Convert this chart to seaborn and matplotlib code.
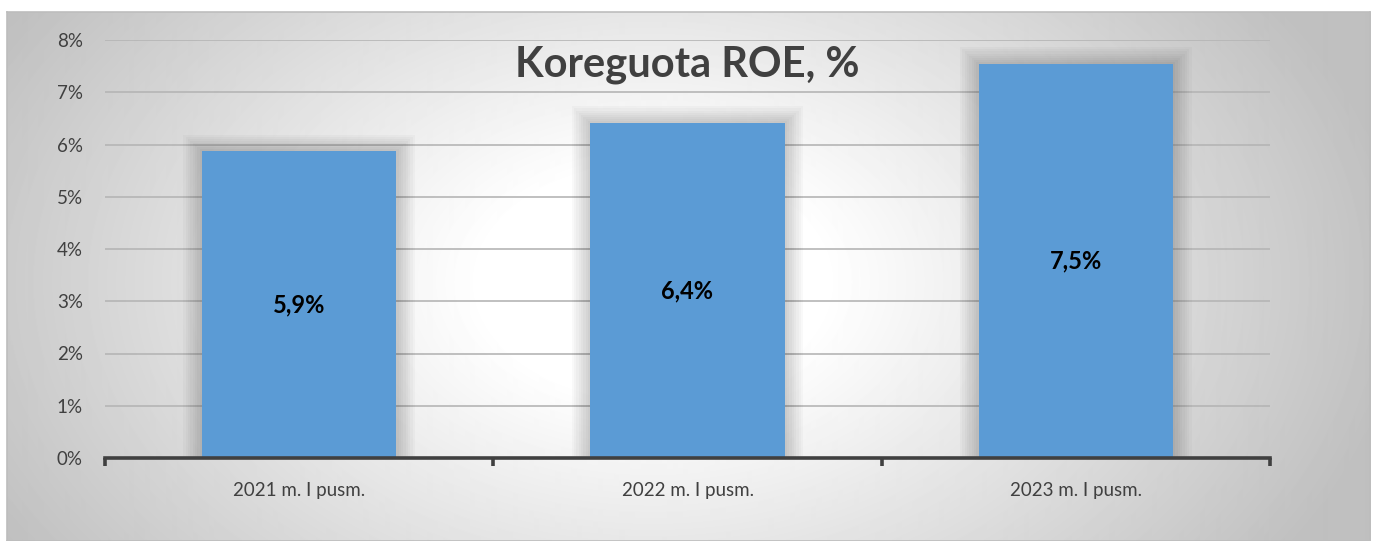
import numpy as np
import pandas as pd
import matplotlib
matplotlib.use("Agg")
import matplotlib.pyplot as plt
import seaborn as sns

# values (ROE, %)
periods = ["2021 m. I pusm.", "2022 m. I pusm.", "2023 m. I pusm."]
roe = [5.87, 6.41, 7.54]
roe_labels = ["5,9%", "6,4%", "7,5%"]
y_ticks = [0, 1, 2, 3, 4, 5, 6, 7, 8]

df = pd.DataFrame({"period": periods, "roe": roe})

sns.set_theme(style="white")
plt.rcParams["font.family"] = ["Lato", "DejaVu Sans"]

W, H = 1375, 541
fig = plt.figure(figsize=(W / 100, H / 100), dpi=100)
fig.patch.set_facecolor("white")

# grey radial gradient background with a thin border
bg = fig.add_axes([7 / W, 0, (W - 12) / W, (H - 12) / H])
bw, bh = W - 12, H - 12
xx, yy = np.meshgrid(np.arange(bw), np.arange(bh))
r = np.sqrt(((xx - 645) / 780.0) ** 2 + ((yy - 270) / 520.0) ** 2)
val = 1 - 0.25 * np.clip((r - 0.22) / 0.75, 0, 1)
bg.imshow(val, cmap="gray", vmin=0, vmax=1, aspect="auto", interpolation="bilinear")
bg.set_xticks([])
bg.set_yticks([])
for s in bg.spines.values():
    s.set_color("#bdbdbd")
    s.set_linewidth(1.2)

ax = fig.add_axes([105 / W, (H - 458) / H, 1165 / W, 418 / H])
ax.patch.set_alpha(0)

# soft shadow around the bars
for k in range(1, 9):
    ax.bar(np.arange(len(roe)), [v + 0.04 * k for v in roe], width=0.5 + 0.012 * k,
           color="black", alpha=0.022, zorder=1, linewidth=0)

sns.barplot(data=df, x="period", y="roe", color="#5B9BD5", width=0.5,
            saturation=1, linewidth=0, ax=ax, zorder=3)

for i, v in enumerate(roe):
    ax.text(i, v / 2, roe_labels[i], ha="center", va="center",
            fontsize=17, fontweight="bold", color="black", zorder=4)

ax.set_ylim(0, 8)
ax.set_xlim(-0.5, 2.5)
ax.set_yticks(y_ticks)
ax.set_yticklabels([f"{t}%" for t in y_ticks])
ax.yaxis.grid(True, color="#b5b5b5", linewidth=1.2, zorder=0)
ax.set_axisbelow(True)
ax.set_xlabel("")
ax.set_ylabel("")

for s in ["left", "right", "top"]:
    ax.spines[s].set_visible(False)
ax.spines["bottom"].set_color("#404040")
ax.spines["bottom"].set_linewidth(2.6)
ax.spines["bottom"].set_zorder(5)

ax.tick_params(axis="y", length=0, pad=16, labelsize=13.5, labelcolor="#404040")
ax.tick_params(axis="x", which="major", length=0, pad=17, labelsize=13.5, labelcolor="#404040")
ax.set_xticks([-0.5, 0.5, 1.5, 2.5], minor=True)
ax.tick_params(axis="x", which="minor", bottom=True, length=6, width=2.6,
               color="#404040", direction="out")

ax.text(0.5, 0.94, "Koreguota ROE, %", transform=ax.transAxes, ha="center", va="center",
        fontsize=30, fontweight="bold", color="#404040", zorder=6)

fig.savefig("out.png", dpi=100)
